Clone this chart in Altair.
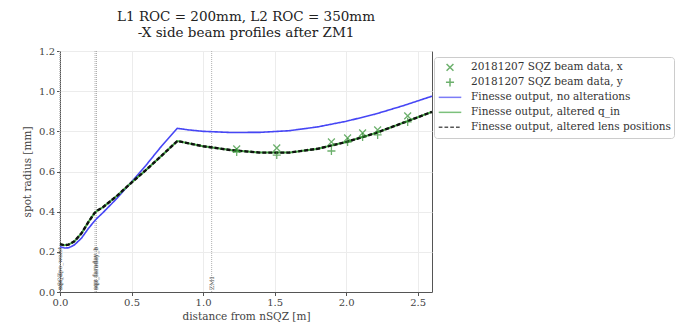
import altair as alt
import pandas as pd

# ---- data ----
model_x = [0.0, 0.03, 0.06, 0.10, 0.15, 0.20, 0.24, 0.26, 0.30, 0.40, 0.50, 0.60, 0.70, 0.82,
           0.90, 1.00, 1.20, 1.40, 1.60, 1.80, 2.00, 2.20, 2.40, 2.60]
blue_y = [0.226, 0.219, 0.220, 0.234, 0.268, 0.318, 0.352, 0.368, 0.395, 0.468, 0.548, 0.630,
          0.718, 0.815, 0.807, 0.800, 0.794, 0.795, 0.803, 0.822, 0.850, 0.885, 0.928, 0.975]
green_y = [0.238, 0.233, 0.236, 0.252, 0.292, 0.350, 0.392, 0.405, 0.422, 0.480, 0.545, 0.607,
           0.672, 0.752, 0.740, 0.726, 0.706, 0.694, 0.694, 0.713, 0.747, 0.790, 0.843, 0.897]
black_y = [0.238, 0.233, 0.236, 0.252, 0.292, 0.350, 0.392, 0.405, 0.422, 0.480, 0.545, 0.607,
           0.672, 0.752, 0.740, 0.726, 0.706, 0.694, 0.694, 0.713, 0.747, 0.790, 0.843, 0.897]

meas_z = [1.235, 1.515, 1.897, 2.01, 2.115, 2.22, 2.43]
meas_x = [0.712, 0.717, 0.747, 0.767, 0.792, 0.807, 0.877]
meas_y = [0.697, 0.682, 0.702, 0.747, 0.772, 0.782, 0.847]

comp_pos = [0.0, 0.0, 0.245, 0.255, 1.06]
comp_names = ["sqz_opo_waist", "nSQZ", "sqz_faraday_a", "sqz_faraday_b", "ZM1"]

series = ["20181207 SQZ beam data, x", "20181207 SQZ beam data, y",
          "Finesse output, no alterations", "Finesse output, altered q_in",
          "Finesse output, altered lens positions"]
series_colors = ["#2f8f2f", "#2f8f2f", "#4646f5", "#45a845", "#111111"]

title_lines = ["L1 ROC = 200mm, L2 ROC = 350mm", "-X side beam profiles after ZM1"]
x_ticks = [0.0, 0.5, 1.0, 1.5, 2.0, 2.5]
y_ticks = [0.0, 0.2, 0.4, 0.6, 0.8, 1.0, 1.2]

# ---- tables ----
lines = pd.concat([
    pd.DataFrame({"z": model_x, "w": blue_y, "s": series[2], "o": 1}),
    pd.DataFrame({"z": model_x, "w": green_y, "s": series[3], "o": 2}),
    pd.DataFrame({"z": model_x, "w": black_y, "s": series[4], "o": 3}),
])
points = pd.concat([
    pd.DataFrame({"z": meas_z, "w": meas_x, "s": series[0]}),
    pd.DataFrame({"z": meas_z, "w": meas_y, "s": series[1]}),
])
comps = pd.DataFrame({"z": comp_pos, "name": comp_names, "w": 0.0})

FONT = "DejaVu Serif"
SYM = 600
xmark = "M-0.28,-0.28L0.28,0.28M-0.28,0.28L0.28,-0.28"
pmark = "M-0.33,0L0.33,0M0,-0.33L0,0.33"
solid = "M-0.92,0L0.92,0"
dashed = "M-0.92,0L-0.62,0M-0.45,0L-0.15,0M0.02,0L0.32,0M0.49,0L0.79,0"

xs = alt.Scale(domain=[0, 2.6], nice=False, zero=False)
ys = alt.Scale(domain=[0, 1.2], nice=False)
color_scale = alt.Scale(domain=series, range=series_colors)
shape_scale = alt.Scale(domain=series, range=[xmark, pmark, solid, solid, dashed])

xax = alt.Axis(values=x_ticks, format=".1f", title="distance from nSQZ [m]", labelFlush=False)
yax = alt.Axis(values=y_ticks, format=".1f", title="spot radius [mm]", labelFlush=False)

legend = alt.Legend(orient="none", legendX=374, legendY=6, title=None, labelLimit=400,
                    labelFont=FONT, labelFontSize=10.5, labelColor="#333",
                    symbolSize=SYM, symbolStrokeWidth=1.5, padding=3, rowPadding=0,
                    clipHeight=14.7, labelOffset=8, fillColor="white",
                    strokeColor="#cccccc", cornerRadius=3)

rules = alt.Chart(comps).mark_rule(color="#b0b0b0", strokeDash=[1, 1], strokeWidth=1).encode(
    x=alt.X("z:Q", scale=xs, axis=xax)
)
labels = alt.Chart(comps).mark_text(
    angle=270, align="left", baseline="middle", fontSize=6, font=FONT, color="#555", dx=2
).encode(
    x=alt.X("z:Q", scale=xs),
    y=alt.Y("w:Q", scale=ys, axis=yax),
    text="name:N",
)

line_layer = alt.Chart(lines).mark_line().encode(
    x=alt.X("z:Q", scale=xs, axis=xax),
    y=alt.Y("w:Q", scale=ys, axis=yax),
    color=alt.Color("s:N", scale=color_scale, legend=legend, title=None),
    strokeDash=alt.StrokeDash("s:N", scale=alt.Scale(domain=series[2:], range=[[1, 0], [1, 0], [4, 2]]), legend=None),
    strokeWidth=alt.StrokeWidth("s:N", scale=alt.Scale(domain=series[2:], range=[1.6, 2.4, 1.3]), legend=None),
    order="o:Q",
)

pt_layer = alt.Chart(points).mark_point(filled=False, size=SYM, strokeWidth=1.3).encode(
    x=alt.X("z:Q", scale=xs, axis=xax),
    y=alt.Y("w:Q", scale=ys, axis=yax),
    color=alt.Color("s:N", scale=color_scale, title=None, legend=legend),
    shape=alt.Shape("s:N", scale=shape_scale, title=None, legend=legend),
)

chart = alt.layer(rules, labels, line_layer, pt_layer).properties(
    width=372, height=241,
    title=alt.TitleParams(title_lines, font=FONT, fontSize=13.5, fontWeight="normal", color="#222",
                          anchor="middle", offset=7, lineHeight=16),
    autosize=alt.AutoSizeParams(type="none"),
    padding={"left": 52, "top": 43, "right": 249, "bottom": 31},
    background="white",
).configure(font=FONT).configure_view(stroke="#555", strokeWidth=1).configure_axis(
    labelFont=FONT, labelFontSize=10, labelColor="#444", titleFont=FONT, titleFontSize=10.5,
    titleFontWeight="normal", titleColor="#444", tickColor="#555", tickSize=3.5, domainColor="#555",
    gridColor="#ececec", labelPadding=2,
).configure_axisX(titlePadding=4).configure_axisY(titlePadding=6).configure_legend(
    symbolSize=SYM, symbolStrokeWidth=1.5,
    labelFont=FONT, labelFontSize=10.5, labelColor="#333",
    padding=3, rowPadding=0, clipHeight=14.7, labelOffset=8,
    fillColor="white", strokeColor="#cccccc", cornerRadius=3, labelLimit=400,
)

chart.save("out.html", embed_options={"renderer": "svg", "actions": False})
